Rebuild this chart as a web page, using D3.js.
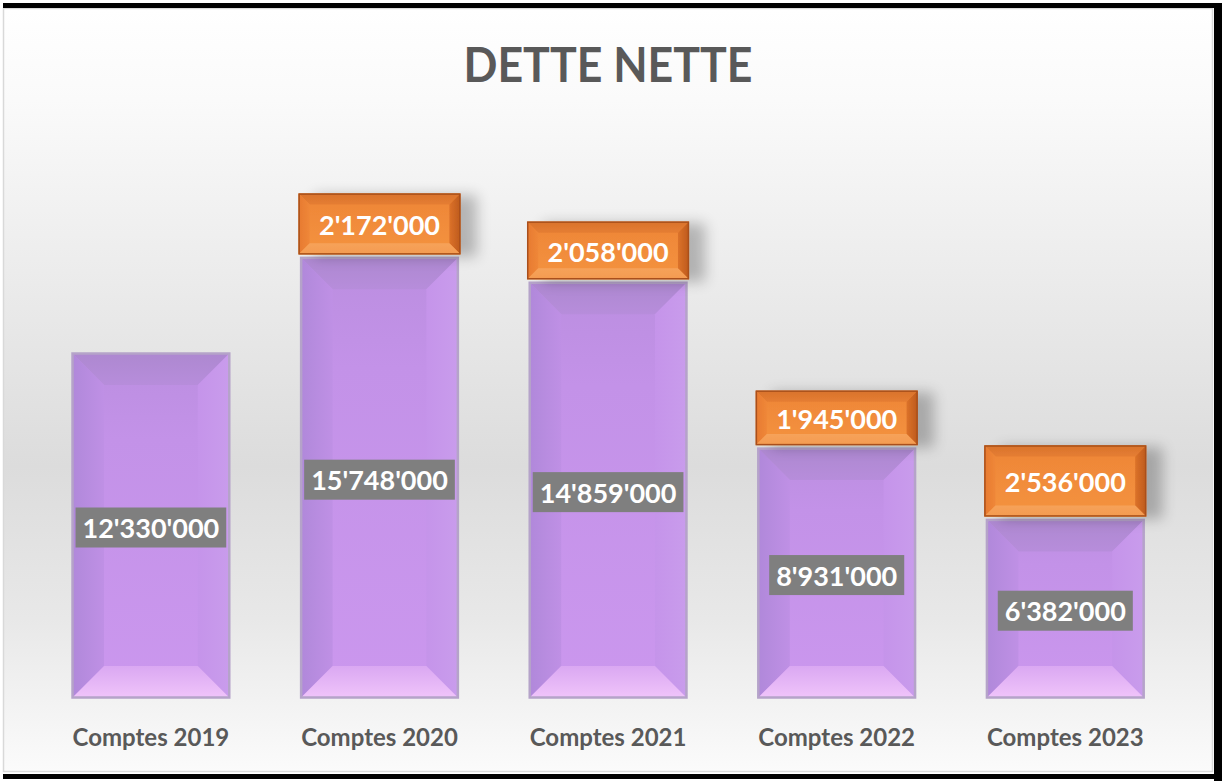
<!DOCTYPE html>
<html>
<head>
<meta charset="utf-8">
<script src="https://cdn.jsdelivr.net/npm/d3@7"></script>
<style>
  body { margin: 0; background: #fff; }
  svg { display: block; }
</style>
</head>
<body>
<svg id="chart"></svg>
<script>
const categories = ["Comptes 2019", "Comptes 2020", "Comptes 2021", "Comptes 2022", "Comptes 2023"];
const detteNette = [12330000, 15748000, 14859000, 8931000, 6382000];
const variation = [0, 2172000, 2058000, 1945000, 2536000];
const title = "DETTE NETTE";

const W = 1222, H = 781;
const svg = d3.select("#chart").attr("width", W).attr("height", H);
const defs = svg.append("defs");

const fmt = d3.formatLocale({ decimal: ".", thousands: "'", grouping: [3], currency: ["", ""] }).format(",d");

// background gradient
const bg = defs.append("linearGradient").attr("id", "bg").attr("x1", 0).attr("y1", 0).attr("x2", 0).attr("y2", 1);
bg.append("stop").attr("offset", "0%").attr("stop-color", "#ffffff");
bg.append("stop").attr("offset", "12%").attr("stop-color", "#fafafa");
bg.append("stop").attr("offset", "60%").attr("stop-color", "#dcdcdc");
bg.append("stop").attr("offset", "80%").attr("stop-color", "#e8e8e8");
bg.append("stop").attr("offset", "100%").attr("stop-color", "#fbfbfb");

function grad(id, stops, horiz) {
  const g = defs.append("linearGradient").attr("id", id)
    .attr("x1", 0).attr("y1", 0).attr("x2", horiz ? 1 : 0).attr("y2", horiz ? 0 : 1);
  stops.forEach(s => g.append("stop").attr("offset", s[0]).attr("stop-color", s[1]));
}
grad("pFace", [["0%", "#bb8ee0"], ["25%", "#c392e8"], ["100%", "#cb97ee"]]);
grad("pTop", [["0%", "#ad88d0"], ["100%", "#b78ddb"]]);
grad("pLeft", [["0%", "#b088da"], ["100%", "#bf90e5"]], true);
grad("pRight", [["0%", "#c594ea"], ["100%", "#c99cec"]], true);
grad("pBot", [["0%", "#daa8f2"], ["100%", "#f0c4fa"]]);
grad("oFace", [["0%", "#ee8537"], ["100%", "#f4933f"]]);
grad("oTop", [["0%", "#d9732c"], ["100%", "#e57d32"]]);
grad("oLeft", [["0%", "#e77a31"], ["100%", "#ef8738"]], true);
grad("oRight", [["0%", "#dc722a"], ["100%", "#bd5a1c"]], true);
grad("oBot", [["0%", "#f6a25a"], ["100%", "#f49b50"]]);

const sh = defs.append("filter").attr("id", "shadow").attr("x", "-20%").attr("y", "-30%").attr("width", "160%").attr("height", "180%");
sh.append("feGaussianBlur").attr("in", "SourceAlpha").attr("stdDeviation", 7).attr("result", "b");
sh.append("feOffset").attr("in", "b").attr("dx", 16).attr("dy", 2).attr("result", "o");
sh.append("feComponentTransfer").attr("in", "o").attr("result", "s")
  .append("feFuncA").attr("type", "linear").attr("slope", 0.25);
const mg = sh.append("feMerge");
mg.append("feMergeNode").attr("in", "s");
mg.append("feMergeNode").attr("in", "SourceGraphic");

// frame
svg.append("rect").attr("x", 3.5).attr("y", 8.5).attr("width", 1209).attr("height", 763)
  .attr("fill", "url(#bg)").attr("stroke", "#d9d9d9").attr("stroke-width", 1.5);
svg.append("rect").attr("x", 3).attr("y", 3).attr("width", W - 3).attr("height", 5).attr("fill", "#000");
svg.append("rect").attr("x", 1214).attr("y", 3).attr("width", 8).attr("height", H - 3).attr("fill", "#000");
svg.append("rect").attr("x", 3).attr("y", 774).attr("width", W - 3).attr("height", 5).attr("fill", "#000");

svg.append("text")
  .attr("x", 608).attr("y", 82)
  .attr("text-anchor", "middle")
  .attr("font-family", "Lato, 'Open Sans', sans-serif")
  .attr("font-weight", 700)
  .attr("font-size", 47)
  .attr("textLength", 289)
  .attr("lengthAdjust", "spacingAndGlyphs")
  .attr("fill", "#595959")
  .text(title);

const x = d3.scaleBand().domain(categories).range([36.6, 1179.6]).paddingInner(0.31).paddingOuter(0.155);
const y = d3.scaleLinear().domain([0, 20000000]).range([698, 138.4]);

const rows = categories.map((c, i) => ({ cat: c, base: detteNette[i], extra: variation[i] }));

function bevelBox(g, x0, y0, w, h, b, p) {
  const x1 = x0 + w, y1 = y0 + h;
  g.append("rect").attr("x", x0).attr("y", y0).attr("width", w).attr("height", h).attr("fill", `url(#${p}Face)`);
  const poly = (pts, f) => g.append("polygon").attr("points", pts.map(d => d.join(",")).join(" ")).attr("fill", `url(#${p}${f})`);
  poly([[x0, y0], [x1, y0], [x1 - b, y0 + b], [x0 + b, y0 + b]], "Top");
  poly([[x0, y0], [x0 + b, y0 + b], [x0 + b, y1 - b], [x0, y1]], "Left");
  poly([[x1, y0], [x1, y1], [x1 - b, y1 - b], [x1 - b, y0 + b]], "Right");
  poly([[x0, y1], [x0 + b, y1 - b], [x1 - b, y1 - b], [x1, y1]], "Bot");
}

const bars = svg.append("g").selectAll("g.bar").data(rows).join("g").attr("class", "bar");

bars.each(function(d) {
  const g = d3.select(this);
  const bx = x(d.cat), bw = x.bandwidth();
  const yTop = y(d.base), h = y(0) - yTop;
  const pg = g.append("g");
  bevelBox(pg, bx, yTop, bw, h, 32, "p");
  pg.append("rect").attr("x", bx + 0.5).attr("y", yTop + 0.5).attr("width", bw - 1).attr("height", h - 1)
    .attr("fill", "none").attr("stroke", "#b5a3c9").attr("stroke-width", 2.5);

  if (d.extra > 0) {
    const oy = y(d.base + d.extra) - 3, oh = yTop - oy - 3;
    const og = g.append("g").attr("filter", "url(#shadow)");
    bevelBox(og, bx - 2, oy, bw + 4, oh, 11, "o");
    og.append("rect").attr("x", bx - 1.5).attr("y", oy + 0.5).attr("width", bw + 3).attr("height", oh - 1)
      .attr("fill", "none").attr("stroke", "#a9501a").attr("stroke-width", 1.5);
    g.append("text")
      .attr("x", bx + bw / 2).attr("y", oy + oh / 2 + 1)
      .attr("text-anchor", "middle").attr("dominant-baseline", "central")
      .attr("font-family", "Lato, 'Open Sans', sans-serif").attr("font-weight", 700)
      .attr("font-size", 27).attr("fill", "#ffffff")
      .text(fmt(d.extra));
  }

  const cy = (yTop + y(0)) / 2 + 2;
  const lbl = g.append("g");
  const box = lbl.append("rect").attr("fill", "#7f7f7f");
  const t = lbl.append("text")
    .attr("x", bx + bw / 2).attr("y", cy)
    .attr("text-anchor", "middle").attr("dominant-baseline", "central")
    .attr("font-family", "Lato, 'Open Sans', sans-serif").attr("font-weight", 700)
    .attr("font-size", 27).attr("fill", "#ffffff")
    .text(fmt(d.base));
  const bb = t.node().getBBox();
  box.attr("x", bb.x - 7).attr("y", cy - 20).attr("width", bb.width + 14).attr("height", 40);
});

svg.append("g").selectAll("text.cat").data(categories).join("text")
  .attr("class", "cat")
  .attr("x", d => x(d) + x.bandwidth() / 2)
  .attr("y", 746)
  .attr("text-anchor", "middle")
  .attr("font-family", "Lato, 'Open Sans', sans-serif")
  .attr("font-weight", 700)
  .attr("font-size", 24)
  .attr("fill", "#595959")
  .text(d => d);
</script>
</body>
</html>
